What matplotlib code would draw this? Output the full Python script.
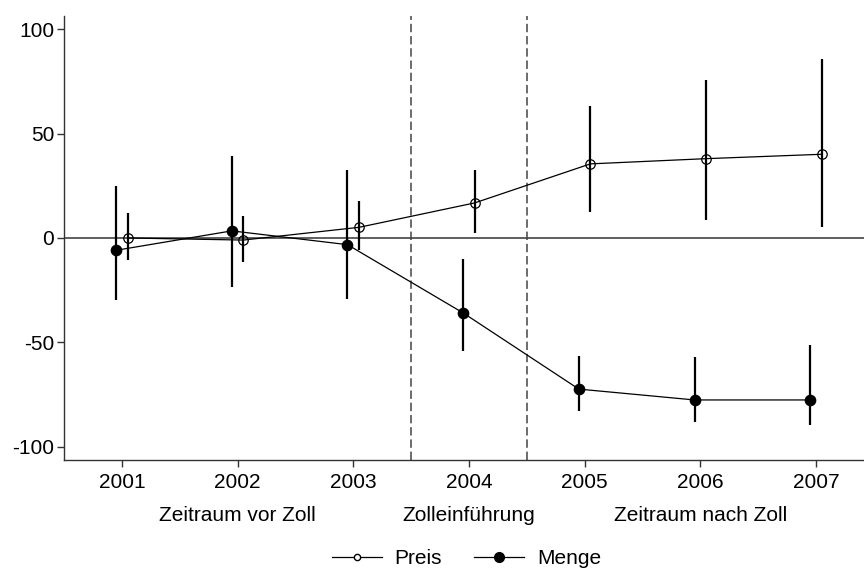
import matplotlib
matplotlib.use("Agg")
import matplotlib.pyplot as plt
from matplotlib.lines import Line2D

plt.rcParams["font.family"] = ["Liberation Sans", "DejaVu Sans"]
plt.rcParams["axes.unicode_minus"] = False

years = [2001, 2002, 2003, 2004, 2005, 2006, 2007]

preis = [0.0, -1.0, 5.1, 16.8, 35.5, 38.0, 40.1]
preis_lo = [-10.4, -11.5, -5.9, 2.4, 12.5, 8.4, 5.3]
preis_hi = [12.0, 10.4, 17.5, 32.7, 63.4, 75.9, 85.8]

menge = [-5.9, 3.4, -3.2, -35.9, -72.4, -77.6, -77.6]
menge_lo = [-29.9, -23.5, -29.1, -54.3, -82.8, -88.3, -89.8]
menge_hi = [25.1, 39.4, 32.4, -10.1, -56.4, -56.9, -51.4]

periods = ["Zeitraum vor Zoll", "Zolleinführung", "Zeitraum nach Zoll"]
period_x = [2002, 2004, 2006]

fig = plt.figure(figsize=(8.64, 5.70), dpi=100)
ax = fig.add_axes([0.0741, 0.1925, 0.9259, 0.78])

off = 0.05
xp = [y + off for y in years]
xm = [y - off for y in years]

ax.axhline(0, color="#333333", lw=1.1, zorder=1)
for xv in (2003.5, 2004.5):
    ax.axvline(xv, color="#444444", lw=1.1, dashes=(5.5, 2.5), zorder=1)

ax.vlines(xp, preis_lo, preis_hi, color="black", lw=1.6, zorder=2)
ax.vlines(xm, menge_lo, menge_hi, color="black", lw=1.6, zorder=2)
ax.plot(xp, preis, color="black", lw=0.9, marker="o", ms=6.8, mfc="none",
        mec="black", mew=0.9, zorder=3)
ax.plot(xm, menge, color="black", lw=0.9, marker="o", ms=7.4, mfc="black",
        mec="black", zorder=3)

ax.set_xlim(2000.5, 2007.415)
ax.set_ylim(-106.5, 106.5)
ax.set_xticks(years)
ax.set_yticks([-100, -50, 0, 50, 100])
ax.tick_params(labelsize=15, length=5, width=1, color="#333333")
ax.tick_params(axis="x", pad=4)
ax.tick_params(axis="y", pad=2)
ax.spines["top"].set_visible(False)
ax.spines["right"].set_visible(False)
for s in ("left", "bottom"):
    ax.spines[s].set_color("#333333")
    ax.spines[s].set_linewidth(1)

for lab, px in zip(periods, period_x):
    ax.annotate(lab, xy=(px, 0), xycoords=("data", "axes fraction"),
                xytext=(0, -33), textcoords="offset points",
                ha="center", va="top", fontsize=15)

handles = [
    Line2D([], [], color="black", lw=0.9, marker="o", ms=4.5, mfc="white", mec="black"),
    Line2D([], [], color="black", lw=0.9, marker="o", ms=7, mfc="black", mec="black"),
]
fig.legend(handles, ["Preis", "Menge"], loc="lower center",
           bbox_to_anchor=(0.54, -0.03), ncol=2, frameon=False,
           fontsize=15, handlelength=2.4, handletextpad=0.6, columnspacing=1.55)

fig.savefig("out.png", dpi=100)
